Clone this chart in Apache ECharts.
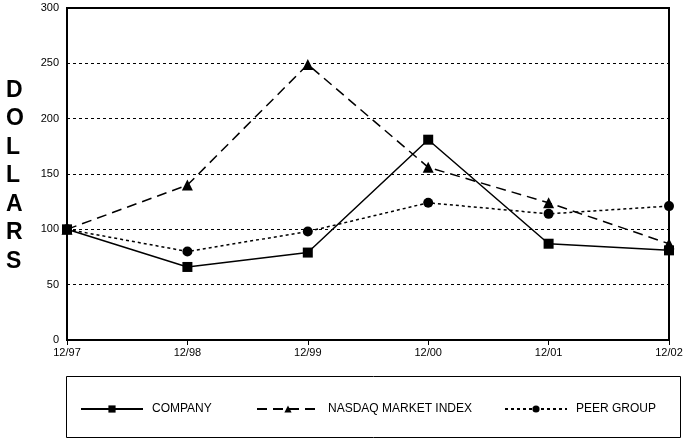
<!DOCTYPE html>
<html>
<head>
<meta charset="utf-8">
<script src="https://cdn.jsdelivr.net/npm/echarts@6/dist/echarts.min.js"></script>
<style>html,body{margin:0;padding:0;background:#fff}#c{width:688px;height:440px}</style>
</head>
<body>
<div id="c"></div>
<script>
const categories = ['12/97', '12/98', '12/99', '12/00', '12/01', '12/02'];
const company = [100, 66, 79, 181, 87, 81];
const nasdaq = [100, 140, 249, 156, 124, 87];
const peer = [100, 80, 98, 124, 114, 121];
const seriesNames = ['COMPANY', 'NASDAQ MARKET INDEX', 'PEER GROUP'];
const yTicks = [0, 50, 100, 150, 200, 250, 300];

const chart = echarts.init(document.getElementById('c'));
const font = 'Liberation Sans, Arial, Helvetica, sans-serif';
const legendBase = {
  orient: 'horizontal', top: 403, padding: 0, itemWidth: 62, itemHeight: 9, itemGap: 8,
  textStyle: { fontFamily: font, fontSize: 12, color: '#000', padding: [0, 0, 0, 4] },
  selectedMode: false
};
chart.setOption({
  animation: false,
  backgroundColor: '#fff',
  grid: { left: 67, right: 19, top: 8, height: 332, show: true, borderColor: '#000', borderWidth: 2, backgroundColor: 'transparent' },
  legend: [
    Object.assign({}, legendBase, { left: 80, data: [seriesNames[0]] }),
    Object.assign({}, legendBase, { left: 256, data: [seriesNames[1]] }),
    Object.assign({}, legendBase, { left: 504, data: [seriesNames[2]] })
  ],
  graphic: [
    { type: 'rect', shape: { x: 66.5, y: 376.5, width: 614, height: 61 }, style: { fill: 'none', stroke: '#000', lineWidth: 1 } },
    { type: 'text', left: 6, top: 76, style: { text: 'D\nO\nL\nL\nA\nR\nS', font: 'bold 23px ' + font, lineHeight: 28.5, fill: '#000', align: 'center', width: 20 } }
  ],
  xAxis: {
    type: 'category', data: categories, boundaryGap: false,
    axisLine: { lineStyle: { color: '#000', width: 2 } },
    axisTick: { show: true, length: 5, lineStyle: { color: '#000' } },
    axisLabel: { color: '#000', fontFamily: font, fontSize: 11, margin: 7 },
    splitLine: { show: false }
  },
  yAxis: {
    type: 'value', min: yTicks[0], max: yTicks[yTicks.length - 1], interval: 50,
    axisLine: { show: true, lineStyle: { color: '#000', width: 2 } },
    axisTick: { show: false },
    axisLabel: { color: '#000', fontFamily: font, fontSize: 11, margin: 8 },
    splitLine: { show: true, lineStyle: { color: '#000', type: [3, 3], width: 1 } }
  },
  series: [
    { name: seriesNames[0], type: 'line', data: company, symbol: 'rect', symbolSize: 10,
      lineStyle: { color: '#000', width: 1.5, type: 'solid' }, itemStyle: { color: '#000' } },
    { name: seriesNames[1], type: 'line', data: nasdaq, symbol: 'triangle', symbolSize: 11,
      lineStyle: { color: '#000', width: 1.5, type: [10, 6] }, itemStyle: { color: '#000' } },
    { name: seriesNames[2], type: 'line', data: peer, symbol: 'circle', symbolSize: 10,
      lineStyle: { color: '#000', width: 1.5, type: [3, 3] }, itemStyle: { color: '#000' } }
  ]
});
</script>
</body>
</html>
